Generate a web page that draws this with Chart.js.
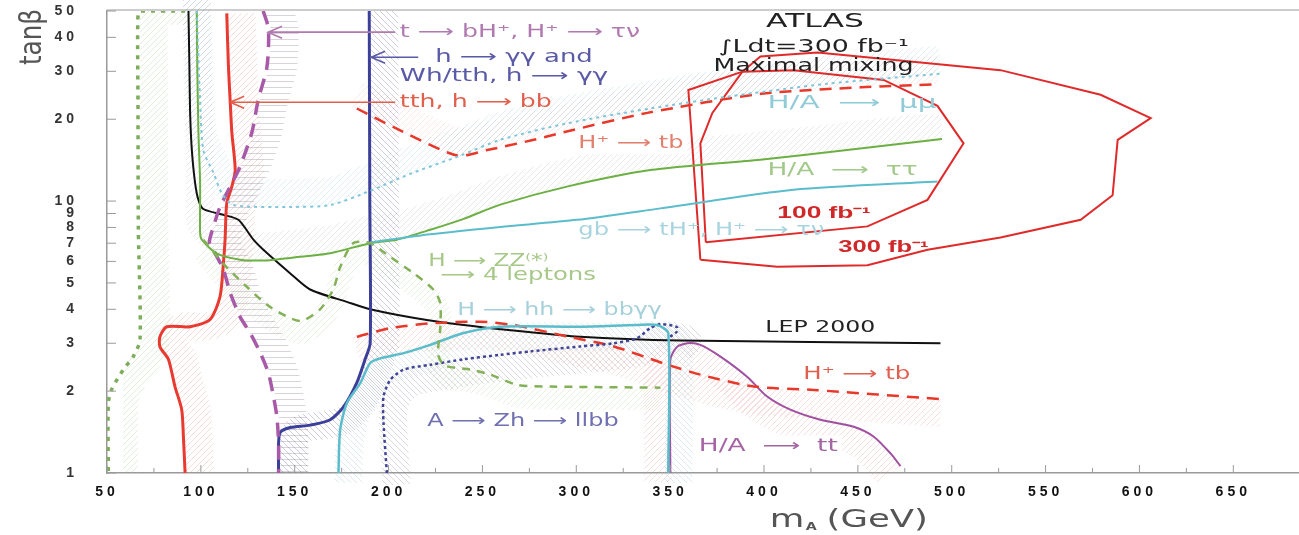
<!DOCTYPE html>
<html>
<head>
<meta charset="utf-8">
<script src="https://cdn.jsdelivr.net/npm/chart.js@4.4.1/dist/chart.umd.min.js"></script>
<style>
  html, body { margin: 0; padding: 0; background: #fff; }
  .wrap { width: 1299px; height: 535px; position: relative; }
</style>
</head>
<body>
<div class="wrap"><canvas id="myChart"></canvas></div>
<script>
// ATLAS discovery contours, m_A (GeV) vs tan beta

const xTicks = [50, 100, 150, 200, 250, 300, 350, 400, 450, 500, 550, 600, 650]
const yTicks = [1, 2, 3, 4, 5, 6, 7, 8, 9, 10, 20, 30, 40, 50]

// LEP 2000 limit
const lepMA = [93.4, 93.9, 94.3, 95.2, 96.9, 98.7, 101.3, 112, 120, 128, 133.3, 147.5, 158.2, 177.8, 190.2, 213.1, 231.2, 259.5, 302.1, 355.4, 494]
const lepTB = [50, 31.0, 20.9, 15.4, 11.7, 10.1, 9.35, 8.9, 8.53, 7.21, 6.62, 5.43, 4.73, 4.26, 4.0, 3.72, 3.56, 3.38, 3.17, 3.07, 3.0]

// tth, h -> bb
const tthMA = [113.8, 114.7, 115.6, 116.5, 118.3, 116.5, 113.8, 112.9, 112, 110.2, 104.9, 94.2, 81.8, 78.2, 78.2, 82.7, 86.2, 89.8, 90.7, 91.6]
const tthTB = [49, 31.1, 23.5, 17.9, 13.0, 11.3, 9.83, 7.21, 5.9, 4.45, 3.67, 3.45, 3.45, 3.17, 2.91, 2.62, 2.08, 1.71, 1.36, 1.0]

// t -> bH+, H+ -> tau nu
const tbhMA = [133.2, 136, 135.2, 130.5, 127.2, 120.9, 115.6, 110.2, 106.7, 104.5, 107.6, 112, 115.6, 120.9, 126.2, 131.6, 136, 138.7, 140.5, 141.4, 141.4]
const tbhTB = [50, 43, 31.1, 23.5, 17.9, 13.4, 11.3, 9.5, 8.05, 7.0, 6.42, 5.6, 4.6, 3.75, 3.28, 2.77, 2.33, 1.91, 1.61, 1.29, 1.0]

// H/A -> tau tau
const tautauMA = [97.8, 98.1, 98.7, 99.6, 99.6, 100.5, 108.5, 120.9, 135.2, 147.6, 168.9, 190.2, 204.4, 222.2, 240, 259.5, 295, 339.4, 398, 444.3, 494.8]
const tautauTB = [50, 31.1, 17.9, 11.7, 7.65, 7.21, 6.42, 6.09, 6.05, 6.18, 6.43, 7.0, 7.21, 7.84, 8.6, 9.7, 11.3, 13.0, 14.2, 15.4, 16.9]

// gb -> tH+, H+ -> tau nu
const gbMA = [190.2, 222.2, 259.5, 300.4, 344.8, 415.7, 492.4]
const gbTB = [7.05, 7.55, 8.03, 8.53, 9.4, 11.0, 11.8]

// H/A -> mu mu
const mumuMA = [97.8, 99.6, 101.3, 106.7, 111.1, 117.3, 147.6, 168.9, 190.2, 211.6, 238.3, 259.5, 295, 339.4, 380.3, 433.6, 493.8]
const mumuTB = [50, 23.5, 15.4, 12.7, 10.7, 9.67, 9.52, 9.67, 10.9, 12.6, 14.7, 16.8, 19.3, 21.9, 24.2, 27.0, 29.4]

// H+ -> tb, upper and lower branch
const htbHiMA = [183.1, 202.7, 236.5, 252.5, 277.4, 298.8, 337.9, 398.4, 451.7, 492.6]
const htbHiTB = [21.9, 18.7, 14.7, 15.4, 16.8, 18.3, 21.1, 24.8, 26.2, 26.9]
const htbLoMA = [183.1, 200.9, 222.2, 248.8, 266.6, 296.9, 320, 346.5, 366.1, 394.5, 426.5, 494]
const htbLoTB = [3.17, 3.41, 3.55, 3.6, 3.5, 3.16, 2.92, 2.53, 2.30, 2.08, 2.02, 1.87]

// h -> gamma gamma
const ggMA = [189.7, 190, 190.2, 187.5, 183.1, 176, 168.9, 158.2, 147.6, 142.3, 141.4, 141.4]
const ggTB = [50, 10, 3.0, 2.62, 2.15, 1.75, 1.57, 1.50, 1.47, 1.41, 1.29, 1.0]

// H -> hh -> bb gamma gamma
const hhMA = [173.3, 174.2, 177.8, 184.9, 190.2, 195.6, 208, 222.2, 240, 259.5, 302.1, 332.3, 342.9, 349, 349]
const hhTB = [1.0, 1.44, 1.81, 2.14, 2.54, 2.64, 2.76, 2.96, 3.27, 3.45, 3.45, 3.50, 3.50, 3.27, 1.0]

// A -> Zh -> llbb
const zhMA = [199.1, 197.3, 197.3, 200.9, 208, 222.2, 240, 259.5, 275.5, 302.1, 319.9, 332.3, 339.4, 344.8, 353.6, 353.6, 350]
const zhTB = [1.0, 1.53, 1.91, 2.2, 2.4, 2.5, 2.62, 2.72, 2.8, 2.92, 3.0, 3.13, 3.41, 3.53, 3.44, 3.31, 3.17]

// H -> ZZ(*) -> 4 leptons
const zzMA = [101.3, 111.8, 124.6, 136.9, 152.9, 163.5, 170.5, 174.2, 181.1, 190.2, 200.9, 213.1, 223.8, 227.5, 227.5, 226.4, 230.2, 243.5, 254.2, 268.6, 286.1, 344.8]
const zzTB = [7.21, 5.9, 4.83, 4.08, 3.62, 4.0, 4.73, 5.71, 7.0, 7.0, 6.23, 5.44, 4.73, 4.22, 3.38, 2.72, 2.48, 2.40, 2.30, 2.11, 2.08, 2.06]

// left-most green dotted contour
const zzLeftMA = [91.6, 67.6, 66.4, 66.5, 66.7, 67.6, 64, 58.7, 52.5, 50.7, 50.7]
const zzLeftTB = [50, 50, 46.2, 23.5, 7.84, 3.09, 2.68, 2.40, 2.03, 1.81, 1.0]

// H/A -> tt
const ttMA = [350.1, 350.1, 353.7, 359.2, 366.1, 376.8, 391, 401.7, 414, 430, 447.8, 458.5, 467.4, 472.7]
const ttTB = [1.0, 2.61, 2.91, 3.0, 2.96, 2.68, 2.26, 1.91, 1.71, 1.57, 1.48, 1.36, 1.18, 1.06]

// maximal mixing regions, 300 fb-1 and 100 fb-1
const mix300MA = [366.1, 359.7, 388.5, 398.1, 428.5, 526, 579.3, 606, 588.4, 585.7, 568.7, 526, 487.1, 455.1, 407.1, 366.1]
const mix300TB = [6.09, 25.6, 29.9, 34.0, 35.2, 30.3, 24.6, 20.2, 16.8, 10.5, 8.53, 7.35, 6.62, 5.81, 5.73, 6.09]
const mix100MA = [369, 366.1, 372.5, 388.5, 415.7, 463.7, 492.4, 506.3, 487.1, 455.1, 369]
const mix100TB = [7.05, 16.3, 21.1, 29.9, 30.3, 27.9, 22.4, 16.3, 10.1, 8.07, 7.05]


const pts = (xs, ys) => xs.map((x, i) => ({ x: x, y: ys[i] }))

// hatch pattern for the shaded side of each contour
const patCtx = document.createElement('canvas').getContext('2d')
function hatch(color, dir) {
    const c = document.createElement('canvas')
    c.width = 6; c.height = 6
    const g = c.getContext('2d')
    g.strokeStyle = color
    g.lineWidth = 1
    g.beginPath()
    if (dir === '-') {
        g.moveTo(0, 3.5); g.lineTo(6, 3.5)
    } else if (dir === '\\') {
        g.moveTo(0, 0); g.lineTo(6, 6); g.moveTo(-1, 5); g.lineTo(1, 7); g.moveTo(5, -1); g.lineTo(7, 1)
    } else {
        g.moveTo(0, 6); g.lineTo(6, 0); g.moveTo(-1, 1); g.lineTo(1, -1); g.moveTo(5, 7); g.lineTo(7, 5)
    }
    g.stroke()
    return patCtx.createPattern(c, 'repeat')
}

function line(xs, ys, color, width, dash, tension) {
    return {
        data: pts(xs, ys), showLine: true, borderColor: color, backgroundColor: color,
        borderWidth: width, borderDash: dash || [], pointRadius: 0,
        tension: tension === undefined ? 0.25 : tension, order: 0
    }
}

function band(xs, ys, color, dir, shift, width) {
    return {
        data: pts(xs, ys), showLine: true, borderColor: hatch(color, dir),
        borderWidth: width || 28, pointRadius: 0, tension: 0.25, order: 5, shift: shift
    }
}

const datasets = [
    band(tthMA, tthTB, 'rgba(225,140,130,0.3)', '/', [15, 0]),
    band(tbhMA, tbhTB, 'rgba(130,110,140,0.3)', '-', [16, 0]),
    band(ggMA, ggTB, 'rgba(100,100,150,0.32)', '\\', [15, 0]),
    band(zzLeftMA, zzLeftTB, 'rgba(170,205,150,0.35)', '/', [16, 0]),
    band(tautauMA, tautauTB, 'rgba(165,165,165,0.25)', '/', [0, -14]),
    band(mumuMA, mumuTB, 'rgba(150,200,215,0.3)', '/', [0, -14]),
    band(htbHiMA, htbHiTB, 'rgba(230,150,140,0.22)', '/', [0, -14]),
    band(htbLoMA, htbLoTB, 'rgba(230,150,140,0.3)', '/', [0, 14]),
    band(ttMA, ttTB, 'rgba(225,150,150,0.3)', '/', [-12, 9]),
    band(zhMA, zhTB, 'rgba(130,130,150,0.3)', '\\', [10, 12]),
    band(hhMA, hhTB, 'rgba(140,185,195,0.3)', '\\', [10, 10]),
    band(zzMA, zzTB, 'rgba(175,205,145,0.3)', '/', [0, 12], 22),

    line(zzLeftMA, zzLeftTB, '#7dad5a', 3.5, [4, 6]),
    line(zzMA, zzTB, '#83b158', 2.5, [8, 7]),
    line(mumuMA, mumuTB, '#7fc6da', 2, [3, 4]),
    line(gbMA, gbTB, '#5bbccc', 2),
    line(tautauMA, tautauTB, '#6cb043', 2),
    line(hhMA, hhTB, '#5bbccc', 2.5),
    line(zhMA, zhTB, '#3f4496', 2.5, [3, 3]),
    line(htbHiMA, htbHiTB, '#e8382a', 2.5, [12, 8]),
    line(htbLoMA, htbLoTB, '#e8382a', 2.5, [12, 8]),
    line(ttMA, ttTB, '#a050a0', 2),
    line(tbhMA, tbhTB, '#a85aa8', 3.5, [14, 9]),
    line(tthMA, tthTB, '#e83a30', 3),
    line(ggMA, ggTB, '#3b3f99', 3),
    line(lepMA, lepTB, '#111111', 2),
    line(mix300MA, mix300TB, '#e02a2a', 2, [], 0),
    line(mix100MA, mix100TB, '#e02a2a', 2, [], 0)
]

const labelFont = '"DejaVu Sans", sans-serif'
// label text, left edge (GeV), centre (tan beta), width (GeV)
const notes = [
    { t: 't ⟶ bH⁺, H⁺ ⟶ τν', x: 206, y: 41.8, w: 128, c: '#b07ab0' },
    { t: 'h ⟶ γγ and', x: 224.8, y: 33.8, w: 84, c: '#5a5aa6' },
    { t: 'Wh/tth, h ⟶ γγ', x: 206, y: 28.6, w: 111, c: '#5a5aa6' },
    { t: 'tth, h ⟶ bb', x: 206, y: 23.1, w: 81, c: '#e0604c' },
    { t: 'H/A  ⟶  μμ', x: 401.8, y: 22.8, w: 90, c: '#92cbd8', box: true },
    { t: 'H⁺ ⟶ tb', x: 301.1, y: 16.3, w: 56, c: '#e2806e', box: true },
    { t: 'H/A  ⟶  ττ', x: 401.8, y: 13.0, w: 80, c: '#a2c98a', box: true },
    { t: 'gb ⟶ tH⁺, H⁺ ⟶ τν', x: 301.1, y: 7.76, w: 131, c: '#a8d4e0', box: true },
    { t: 'H ⟶ ZZ⁽*⁾', x: 221.1, y: 6.0, w: 64, c: '#a6c888', box: true },
    { t: '⟶ 4 leptons', x: 227.5, y: 5.34, w: 83, c: '#a6c888', box: true },
    { t: 'H ⟶ hh ⟶ bbγγ', x: 236.6, y: 3.97, w: 109, c: '#a6d0da', box: true },
    { t: 'H⁺ ⟶ tb', x: 420.9, y: 2.30, w: 57, c: '#e06050', box: true },
    { t: 'A ⟶ Zh ⟶ llbb', x: 220.6, y: 1.54, w: 102, c: '#7070b0', box: true },
    { t: 'H/A  ⟶  tt', x: 365.3, y: 1.25, w: 74, c: '#a565a5', box: true },
    { t: 'LEP 2000', x: 400.7, y: 3.42, w: 58.6, c: '#222', f: '15px ' + labelFont, box: true },
    { t: '100 fb⁻¹', x: 407.1, y: 9.03, w: 49.6, c: '#d02828', f: 'bold 16px "Liberation Sans", Arial, sans-serif' },
    { t: '300 fb⁻¹', x: 439.6, y: 6.72, w: 48, c: '#d02828', f: 'bold 16px "Liberation Sans", Arial, sans-serif' },
    { t: 'ATLAS', x: 401.1, y: 45.4, w: 52.2, c: '#222', f: '19px ' + labelFont },
    { t: '∫Ldt=300 fb⁻¹', x: 375.8, y: 36.8, w: 101.3, c: '#222', f: '17px ' + labelFont },
    { t: 'Maximal mixing', x: 373.1, y: 31.1, w: 106.6, c: '#222', f: '17px ' + labelFont }
]
// arrows pointing left: [from, to, tan beta, colour]
const arrows = [
    [135.8, 203.5, 41.8, '#b07ab0'],
    [190.7, 215.8, 33.8, '#5a5aa6'],
    [115.6, 203.5, 23.1, '#e0604c']
]

// move the hatch bands to the shaded side of their contour
const shiftPlugin = {
    id: 'shift',
    beforeDatasetDraw(chart, args) {
        const s = chart.data.datasets[args.index].shift
        if (s) { chart.ctx.save(); chart.ctx.translate(s[0], s[1]) }
    },
    afterDatasetDraw(chart, args) {
        if (chart.data.datasets[args.index].shift) chart.ctx.restore()
        // last band done: blank the label boxes before the contours go on
        if (args.index === 0) {
            const { ctx, scales: { x, y } } = chart
            ctx.save()
            ctx.fillStyle = '#fff'
            notes.filter(n => n.box).forEach(n => {
                const px = x.getPixelForValue(n.x), pw = x.getPixelForValue(n.x + n.w) - px
                ctx.fillRect(px - 4, y.getPixelForValue(n.y) - 11, pw + 8, 22)
            })
            ctx.restore()
        }
    }
}

const spacing = {
    id: 'spacing',
    beforeDraw(chart) { chart.ctx.letterSpacing = '4px' },
    beforeDatasetsDraw(chart) { chart.ctx.letterSpacing = '0px' }
}

// draw text stretched to the width it takes on the original plot
function wideText(ctx, text, px, py, pw) {
    const m = ctx.measureText(text).width
    ctx.save()
    ctx.translate(px, py)
    ctx.scale(pw / m, 1)
    ctx.fillText(text, 0, 0)
    ctx.restore()
}

const framePlugin = {
    id: 'frame',
    afterDatasetsDraw(chart) {
        const { ctx, chartArea: a, scales: { x, y } } = chart
        ctx.save()
        ctx.strokeStyle = '#9a9a9a'
        ctx.lineWidth = 1
        ctx.beginPath()
        ctx.moveTo(a.left, a.top - 1); ctx.lineTo(a.right, a.top - 1)
        for (let v = 50; v <= 650; v += 25) {
            const px = x.getPixelForValue(v)
            ctx.moveTo(px, a.bottom); ctx.lineTo(px, a.bottom - (v % 50 ? 5 : 8))
        }
        yTicks.forEach(v => {
            const py = y.getPixelForValue(v)
            ctx.moveTo(a.left, py); ctx.lineTo(a.left + 9, py)
        })
        ctx.stroke()

        arrows.forEach(([x1, x2, tb, col]) => {
            const p1 = x.getPixelForValue(x1), p2 = x.getPixelForValue(x2), py = y.getPixelForValue(tb)
            ctx.strokeStyle = col
            ctx.lineWidth = 1.6
            ctx.beginPath()
            ctx.moveTo(p2, py); ctx.lineTo(p1, py)
            ctx.moveTo(p1 + 14, py - 6); ctx.lineTo(p1, py); ctx.lineTo(p1 + 14, py + 6)
            ctx.stroke()
        })

        ctx.textBaseline = 'middle'
        ctx.textAlign = 'left'
        notes.forEach(n => {
            ctx.font = n.f || ('17px ' + labelFont)
            ctx.fillStyle = n.c
            const px = x.getPixelForValue(n.x)
            wideText(ctx, n.t, px, y.getPixelForValue(n.y), x.getPixelForValue(n.x + n.w) - px)
        })

        // axis titles
        ctx.fillStyle = '#555'
        ctx.textBaseline = 'alphabetic'
        const tx = x.getPixelForValue(403)
        ctx.save()
        ctx.translate(tx, 0)
        ctx.scale(1.42, 1)
        ctx.font = '25px ' + labelFont
        ctx.fillText('m', 0, 527)
        let w = ctx.measureText('m').width + 1
        ctx.font = 'bold 10px ' + labelFont
        ctx.fillText('A', w, 530)
        w += ctx.measureText('A').width + 7
        ctx.font = '25px ' + labelFont
        ctx.fillText('(GeV)', w, 527)
        ctx.restore()

        ctx.translate(41, 37)
        ctx.rotate(-Math.PI / 2)
        ctx.textAlign = 'center'
        ctx.font = '26px ' + labelFont
        ctx.scale(0.95, 1.15)
        ctx.fillText('tanβ', 0, 0)
        ctx.restore()
    }
}

const ctx = document.getElementById('myChart')
new Chart(ctx, {
    type: 'scatter',
    data: { datasets: datasets },
    options: {
        responsive: true,
        maintainAspectRatio: false,
        animation: false,
        events: [],
        layout: { padding: { top: 11, right: 0, bottom: 0, left: 0 } },
        plugins: { legend: { display: false }, tooltip: { enabled: false } },
        scales: {
            x: {
                type: 'linear', min: 50, max: 685,
                afterFit: s => { s.height = 62; s.paddingLeft = 0; s.paddingRight = 0 },
                afterBuildTicks: s => { s.ticks = xTicks.map(v => ({ value: v })) },
                grid: { display: false },
                border: { color: '#9a9a9a', width: 1.5 },
                ticks: { autoSkip: false, maxRotation: 0, padding: 3, color: '#111',
                    font: { family: '"Liberation Sans", Arial, sans-serif', size: 14, weight: 'bold' } }
            },
            y: {
                type: 'logarithmic', min: 1, max: 50,
                afterFit: s => { s.width = 107; s.paddingTop = 0; s.paddingBottom = 0 },
                afterBuildTicks: s => { s.ticks = yTicks.map(v => ({ value: v })) },
                grid: { display: false },
                border: { color: '#9a9a9a', width: 1.5 },
                ticks: { autoSkip: false, padding: 21, color: '#333',
                    font: { family: '"Liberation Sans", Arial, sans-serif', size: 14, weight: 'bold' },
                    callback: v => String(v) }
            }
        }
    },
    plugins: [shiftPlugin, spacing, framePlugin]
})
</script>
</body>
</html>
